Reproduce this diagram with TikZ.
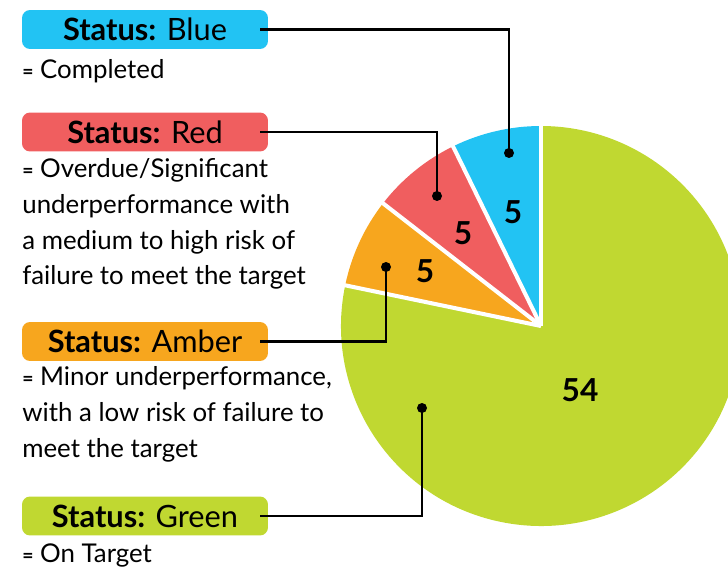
\documentclass[tikz,border=0pt]{standalone}
\usepackage{fontspec}
\setmainfont{Lato}
\usetikzlibrary{positioning}
\definecolor{statusblue}{RGB}{34,195,243}
\definecolor{statusred}{RGB}{240,94,95}
\definecolor{statusamber}{RGB}{247,166,30}
\definecolor{statusgreen}{RGB}{192,216,49}
\newcommand{\eqsign}{{\bfseries\fontsize{11}{12}\selectfont =}}

\begin{document}
\begin{tikzpicture}[x=0.02cm, y=0.02cm,
    statusbox/.style={rounded corners=0.16cm, minimum width=4.92cm, minimum height=0.78cm, inner sep=0pt, font=\fontsize{17.5}{19}\selectfont},
    desc/.style={anchor=north west, inner sep=0pt, align=left, font=\fontsize{14.7}{20.4}\selectfont},
    dot/.style={circle, fill=black, inner sep=0pt, minimum size=0.2cm},
    leader/.style={line width=1.4pt},
    count/.style={font=\bfseries\fontsize{18}{20}\selectfont}]

    \useasboundingbox (0,0) rectangle (728,569);

    % pie
    \coordinate (pie) at (541,243);
    \begin{scope}
        \clip (0,0) rectangle (728,569);
        \foreach \from/\to/\col in {90/116.09/statusblue, 116.09/142.17/statusred, 142.17/168.26/statusamber, 168.26/450/statusgreen}{
            \fill[\col] (pie) -- ++(\from:200) arc[start angle=\from, end angle=\to, radius=200] -- cycle;
        }
        \foreach \a in {90,116.09,142.17,168.26}{
            \draw[white, line width=2.3pt] (pie) -- ++(\a:205);
        }
    \end{scope}

    \node[count] at (513,357) {5};
    \node[count] at (463,336) {5};
    \node[count] at (425,298) {5};
    \node[count] at (580,179) {54};

    % legend
    \node[statusbox, fill=statusblue] (blueBox) at (145,539.5) {\textbf{Status:} Blue};
    \node[statusbox, fill=statusred] (redBox) at (145,437) {\textbf{Status:} Red};
    \node[statusbox, fill=statusamber] (amberBox) at (145,227.5) {\textbf{Status:} Amber};
    \node[statusbox, fill=statusgreen] (greenBox) at (145,53) {\textbf{Status:} Green};

    \node[desc] (blueText) at (22,510) {\eqsign{} Completed};
    \node[desc] (redText) at (22,411) {\eqsign{} Overdue/Significant\\underperformance with\\a medium to high risk of\\failure to meet the target};
    \node[desc] (amberText) at (22,203) {\eqsign{} Minor underperformance,\\with a low risk of failure to\\meet the target};
    \node[desc] (greenText) at (22,26) {\eqsign{} On Target};

    % leaders
    \node[dot] (blueDot) at (509,416) {};
    \node[dot] (redDot) at (437,373) {};
    \node[dot] (amberDot) at (386,302) {};
    \node[dot] (greenDot) at (422,161) {};

    \draw[leader] ([xshift=-0.16cm]blueBox.east) -| (blueDot.center);
    \draw[leader] ([xshift=-0.16cm]redBox.east) -| (redDot.center);
    \draw[leader] ([xshift=-0.16cm]amberBox.east) -| (amberDot.center);
    \draw[leader] ([xshift=-0.16cm]greenBox.east) -| (greenDot.center);

\end{tikzpicture}
\end{document}
